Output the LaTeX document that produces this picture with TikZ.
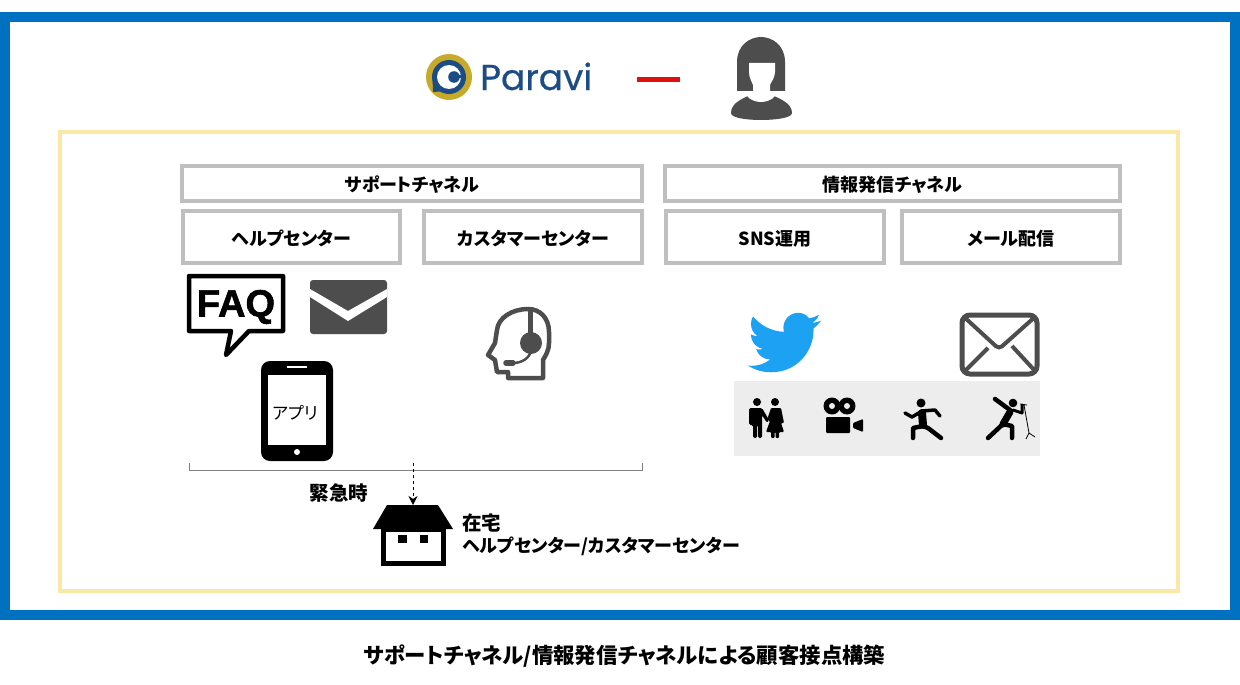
\documentclass[tikz,border=0pt]{standalone}
\usepackage{fontspec}
\usetikzlibrary{arrows.meta}
\newfontfamily\jpfont{Noto Sans CJK JP}[RawFeature=+palt]
\newfontfamily\logofont{Poppins}[FakeBold=0.6]
\newfontfamily\faqfont{Liberation Sans}[BoldFeatures={FakeBold=1.5}]
\definecolor{frameblue}{HTML}{0070C0}
\definecolor{paleyellow}{HTML}{F9E8A6}
\definecolor{boxgray}{HTML}{BFBFBF}
\definecolor{icongray}{HTML}{4D4D4D}
\definecolor{panelgray}{HTML}{EDEDED}
\definecolor{logoblue}{HTML}{1B4C85}
\definecolor{logogold}{HTML}{C8AA2A}
\definecolor{birdblue}{HTML}{1DA1F2}
\definecolor{linered}{HTML}{E01010}
\tikzset{
  graybox/.style={draw=boxgray, line width=4pt, inner sep=0pt, text height=18pt, text depth=2pt, font=\jpfont\bfseries\fontsize{18}{20}\selectfont},
  label/.style={inner sep=0pt, text height=18pt, text depth=2pt, font=\jpfont\bfseries\fontsize{18}{20}\selectfont},
  limb/.style={line width=4.5pt, line cap=round, line join=round},
}
\begin{document}
\begin{tikzpicture}[x=1pt, y=-1pt]
\useasboundingbox (0,0) rectangle (1240,685);
\fill [white] (0,0) rectangle (1240,685);
\draw [line width=10pt, draw=frameblue] (5,17) rectangle (1235,615);
\draw [line width=4pt, draw=paleyellow] (60,132) rectangle (1178,591);

% logo
\fill [logogold] (449,77) circle (23);
\fill [logoblue] (449,77) circle (17);
\fill [logoblue] (432.5,78) -- (433,92) -- (446,91) -- cycle;
\fill [white] (449,77) circle (12);
\fill [logoblue] (454,77) circle (5.8);
\fill [logoblue] (454,75.5) rectangle (462,78.5);
\node [inner sep=0pt, anchor=base west, text=logoblue, font=\logofont\fontsize{36}{38}\selectfont] (paravi) at (480,90) {Paravi};
\fill [linered] (637,77.5) rectangle (680,82.5);

% person
\fill [icongray] (737,91) -- (737,62) .. controls (737,45) and (750,37) .. (761,37) .. controls (772,37) and (785,45) .. (785,62) -- (785,91) -- cycle;
\fill [icongray] (731,113) .. controls (731,103) and (742,99) .. (750,95) -- (772,95) .. controls (780,99) and (792,103) .. (792,113) .. controls (792,118) and (775,120) .. (761,120) .. controls (747,120) and (731,118) .. (731,113) -- cycle;
\fill [white] (749,63) -- (775,63) -- (775,72) .. controls (775,78) and (771,82) .. (770,85) -- (770,91) .. controls (770,93) and (773,95) .. (775,96) .. controls (772,100) and (766,102) .. (761,102) .. controls (756,102) and (750,100) .. (747,96) .. controls (750,95) and (753,93) .. (753,91) -- (753,85) .. controls (752,82) and (749,78) .. (749,72) -- cycle;

% channel boxes
\node [graybox, minimum width=460, minimum height=35] (support) at (412,183.5) {サポートチャネル};
\node [graybox, minimum width=455, minimum height=35] (info) at (892.5,183.5) {情報発信チャネル};
\node [graybox, minimum width=217, minimum height=52] (help) at (291.5,237) {ヘルプセンター};
\node [graybox, minimum width=218, minimum height=52] (customer) at (533,237) {カスタマーセンター};
\node [graybox, minimum width=218, minimum height=52] (sns) at (775,237) {SNS運用};
\node [graybox, minimum width=218, minimum height=52] (mail) at (1011,237) {メール配信};

% faq
\draw [line width=4.5pt, line join=round, fill=white] (189,276) -- (283,276) -- (283,331) -- (249,331) -- (226,355) -- (231,331) -- (189,331) -- cycle;
\node [inner sep=0pt, font=\faqfont\bfseries\fontsize{38}{40}\selectfont] (faq) at (236,307) {FAQ};

% filled envelope
\fill [icongray, rounded corners=3pt] (310,280) rectangle (387,334);
\fill [white] (310,289) -- (348,311) -- (387,289) -- (387,297) -- (348,321) -- (310,297) -- cycle;

% phone
\fill [black, rounded corners=9pt] (261,361) rectangle (333,461);
\fill [white] (268,375) rectangle (326,445);
\fill [white] (287,366) rectangle (307,368);
\fill [white] (297,452) circle (3);
\node [inner sep=0pt, font=\jpfont\fontsize{17}{19}\selectfont] (app) at (295,413) {アプリ};

% headset
\draw [icongray, line width=4.5pt, line join=round] (543,378) -- (543,360) .. controls (546,355) and (549,350) .. (549,343) -- (549,332) .. controls (549,318) and (540,309) .. (528,309) .. controls (512,309) and (498,318) .. (497,330) -- (495,343) -- (488,355) -- (495,360) -- (497,372) -- (508,372) -- (508,378) -- cycle;
\draw [icongray, line width=5pt] (530,309) -- (530,343);
\fill [icongray] (531,343) circle (11);
\draw [icongray, line width=2.5pt] (531,350) .. controls (530,358) and (522,363) .. (513,363);
\draw [icongray, line width=5.5pt, line cap=round] (506,363) -- (513,363);

% bird
\begin{scope}[shift={(748,307)}, x=3.04pt, y=-3pt]
\fill [birdblue] (23.953,4.57) .. controls (23.1,4.95) and (22.1,5.2) .. (21.128,5.345) .. controls (22.1,4.75) and (22.95,3.8) .. (23.291,2.622) .. controls (22.34,3.177) and (21.286,3.581) .. (20.164,3.806) .. controls (19.27,2.65) and (17.9,1.93) .. (16.57,1.93) .. controls (13.85,1.93) and (11.65,4.13) .. (11.65,6.85) .. controls (11.65,7.35) and (11.68,7.83) .. (11.78,8.288) .. controls (7.69,8.095) and (4.067,6.13) .. (1.64,3.162) .. controls (1.22,3.88) and (0.974,4.73) .. (0.974,5.637) .. controls (0.974,7.347) and (1.844,8.85) .. (3.162,9.733) .. controls (2.35,9.71) and (1.6,9.49) .. (0.934,9.117) -- (0.934,9.177) .. controls (0.934,11.55) and (2.62,13.55) .. (4.88,14.004) .. controls (4.15,14.2) and (3.4,14.23) .. (2.668,14.089) .. controls (3.35,16.1) and (5.2,17.46) .. (7.272,17.506) .. controls (5.6,18.83) and (3.5,19.61) .. (1.17,19.611) .. controls (0.78,19.611) and (0.391,19.588) .. (0,19.544) .. controls (2.18,20.94) and (4.77,21.753) .. (7.557,21.753) .. controls (16.61,21.753) and (21.555,14.257) .. (21.555,7.768) .. controls (21.555,7.558) and (21.555,7.348) .. (21.54,7.138) .. controls (22.5,6.45) and (23.33,5.57) .. (24,4.59) -- cycle;
\end{scope}

% outlined envelope
\draw [icongray, line width=5pt, rounded corners=8pt] (962,315) rectangle (1037,374);
\draw [icongray, line width=4pt, rounded corners=4pt] (963,316) -- (999,349) -- (1036,316);
\draw [icongray, line width=4pt] (964,372) -- (988,348) (1012,346) -- (1036,372);

% panel
\fill [panelgray] (734,381) rectangle (1040,456);
% couple
\fill (757,402) circle (4);
\fill (775,402) circle (4);
\fill [rounded corners=1.5pt] (749,408) -- (762,408) -- (769,420) -- (767,423) -- (762,415) -- (762,438) -- (758,438) -- (758,425) -- (757,425) -- (757,438) -- (753,438) -- (753,425) -- (749,425) -- cycle;
\fill [rounded corners=1pt] (771,408) -- (781,408) -- (784,423) -- (781,423) -- (784,432) -- (779,432) -- (779,438) -- (775.5,438) -- (775.5,432) -- (774.5,432) -- (774.5,438) -- (771,438) -- (771,432) -- (766,432) -- (770,421) -- (767,420) -- cycle;
% camera
\fill (832,406) circle (8.5);
\fill (847,406) circle (8.5);
\fill [panelgray] (832,406) circle (3);
\fill [panelgray] (847,406) circle (3);
\fill [rounded corners=1pt] (826,417) rectangle (850,433);
\fill [rounded corners=1pt] (853,423) -- (863,419) -- (863,432) -- (853,428) -- cycle;
% runner
\fill (921,403) circle (4.5);
\draw [limb, line width=3.5pt] (905,413) -- (912,417) -- (922,411) -- (935,410) -- (940,416);
\draw [limb, line width=8pt] (922,413) -- (923,425);
\draw [limb] (913,438) -- (913,428) -- (923,426) -- (928,428) -- (941,438);
% singer
\fill (1013,403) circle (4.3);
\draw [limb] (995,399) -- (1010,410);
\draw [limb, line width=3pt] (1013,410) -- (1022,413) -- (1022,405);
\draw [limb, line width=7pt] (1010,412) -- (1003,424);
\draw [limb] (988,438) -- (1003,424) -- (1012,426) -- (1012,438);
\draw [line width=0.8pt] (1020,404) -- (1027,405) (1024,405) -- (1029,433) -- (1026,439) (1029,433) -- (1035,437);

% bracket
\coordinate (bracketmid) at (413,463);
\draw [draw=gray, line width=1pt] (189,463) -- (189,470) -- (642,470) -- (642,463);
\node [label, font=\jpfont\bfseries\fontsize{19.5}{21}\selectfont] (urgent) at (339,492) {緊急時};

% house
\node [inner sep=0pt, outer sep=0pt, minimum size=0pt] (house) at (413,505) {};
\fill (387,505) -- (438,505) -- (453,529) -- (373,529) -- cycle;
\draw [line width=5pt] (383.5,529) rectangle (443.5,563);
\fill (398,535) rectangle (407,543);
\fill (420,535) rectangle (428,543);
\draw [-{Stealth[length=9pt, width=9pt]}, dashed, line width=0.8pt] (bracketmid) -- (house);
\node [label, anchor=west, font=\jpfont\bfseries\fontsize{19.5}{21}\selectfont] (home) at (462,522) {在宅};
\node [label, anchor=west] (homecenter) at (462,544) {ヘルプセンター/カスタマーセンター};

\node [inner sep=0pt, font=\jpfont\bfseries\fontsize{21.4}{23}\selectfont] (caption) at (624.5,656) {サポートチャネル/情報発信チャネルによる顧客接点構築};
\end{tikzpicture}
\end{document}
